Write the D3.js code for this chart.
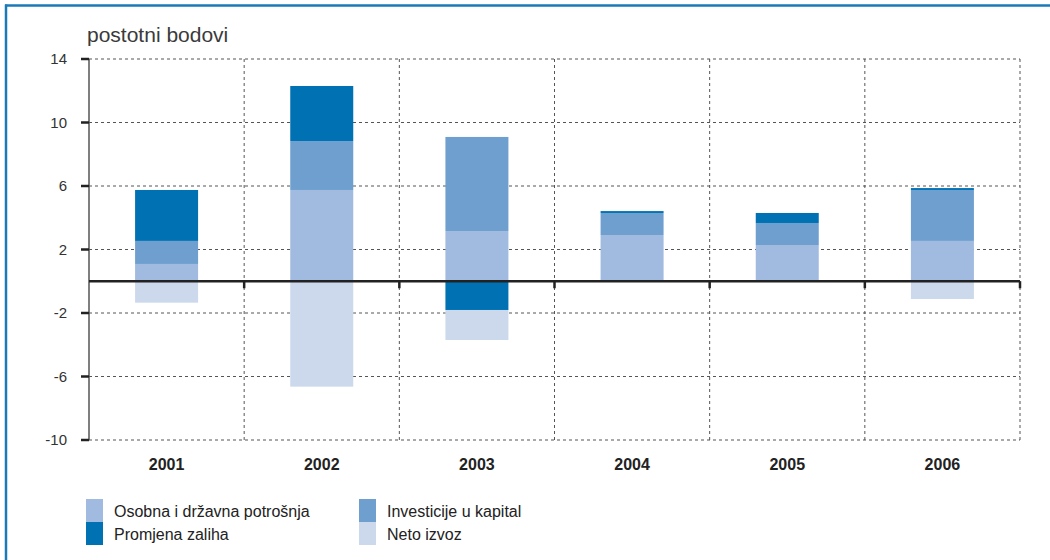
<!DOCTYPE html>
<html>
<head>
<meta charset="utf-8">
<script src="https://cdn.jsdelivr.net/npm/d3@7"></script>
<style>
  body { margin: 0; background: #fff; }
  svg { display: block; font-family: "Liberation Sans", Arial, sans-serif; }
  .tick-label { font-size: 15px; fill: #333; }
  .year { font-size: 16px; font-weight: bold; fill: #222; }
  .legend-text { font-size: 16px; fill: #222; }
</style>
</head>
<body>
<svg width="1050" height="560"></svg>
<script>
var years = ["2001", "2002", "2003", "2004", "2005", "2006"];
var potrosnja = [1.09, 5.75, 3.16, 2.91, 2.28, 2.54];
var investicije = [1.45, 3.08, 5.93, 1.39, 1.39, 3.21];
var zalihe = [3.21, 3.47, -1.81, 0.12, 0.63, 0.12];
var izvoz = [-1.35, -6.64, -1.89, 0, 0, -1.12];
var yTicks = [14, 10, 6, 2, -2, -6, -10];

var seriesNames = ["Osobna i državna potrošnja", "Investicije u kapital", "Promjena zaliha", "Neto izvoz"];
var seriesVals = [potrosnja, investicije, zalihe, izvoz];
var colors = ["#a1badf", "#6e9fcf", "#0072b3", "#ccd9ec"];

var svg = d3.select("svg");
var margin = { top: 59, right: 30, bottom: 120, left: 89 };

// frame lines (top and left only)
svg.append("line").attr("x1", 5).attr("x2", 1050).attr("y1", 5.5).attr("y2", 5.5)
    .attr("stroke", "#1a7ab8").attr("stroke-width", 2.5);
svg.append("line").attr("x1", 6).attr("x2", 6).attr("y1", 4.5).attr("y2", 560)
    .attr("stroke", "#1a7ab8").attr("stroke-width", 2.5);

svg.append("text").attr("x", 87).attr("y", 42)
    .attr("font-size", 21).attr("fill", "#3a3a3a")
    .text("postotni bodovi");

var x = d3.scaleBand().domain(years).range([0, 931]).paddingInner(0).paddingOuter(0);
var y = d3.scaleLinear().domain([-10, 14]).range([381, 0]);

var g = svg.append("g").attr("transform", "translate(" + margin.left + "," + margin.top + ")");

// horizontal grid
g.selectAll(".hgrid").data(yTicks).enter().append("line")
    .attr("x1", 0).attr("x2", 931)
    .attr("y1", function (d) { return y(d); }).attr("y2", function (d) { return y(d); })
    .attr("stroke", "#555").attr("stroke-width", 1).attr("stroke-dasharray", "3,3");

// vertical grid at category boundaries
var bounds = years.map(function (d) { return x(d) + x.bandwidth(); });
g.selectAll(".vgrid").data(bounds).enter().append("line")
    .attr("x1", function (d) { return d; }).attr("x2", function (d) { return d; })
    .attr("y1", 0).attr("y2", 381)
    .attr("stroke", "#555").attr("stroke-width", 1).attr("stroke-dasharray", "3,3");

// stacked bars: positives up, negatives down
var barW = 63;
years.forEach(function (yr, i) {
    var pos = 0, neg = 0;
    seriesVals.forEach(function (vals, s) {
        var v = vals[i];
        if (v === 0) return;
        var y0, y1;
        if (v > 0) { y0 = pos; y1 = pos + v; pos = y1; }
        else { y0 = neg; y1 = neg + v; neg = y1; }
        g.append("rect")
            .attr("x", x(yr) + (x.bandwidth() - barW) / 2)
            .attr("width", barW)
            .attr("y", y(Math.max(y0, y1)))
            .attr("height", Math.abs(y(y0) - y(y1)))
            .attr("fill", colors[s]);
    });
});

// y axis
g.append("line").attr("x1", 0).attr("x2", 0).attr("y1", 0).attr("y2", 381)
    .attr("stroke", "#555").attr("stroke-width", 1.5);
g.selectAll(".ytick").data(yTicks).enter().append("line")
    .attr("x1", -8).attr("x2", 0)
    .attr("y1", function (d) { return y(d); }).attr("y2", function (d) { return y(d); })
    .attr("stroke", "#222").attr("stroke-width", 2.5);
g.selectAll(".tick-label").data(yTicks).enter().append("text")
    .attr("class", "tick-label")
    .attr("x", -22).attr("y", function (d) { return y(d) + 5; })
    .attr("text-anchor", "end")
    .text(function (d) { return d; });

// zero line with ticks at boundaries
g.append("line").attr("x1", 0).attr("x2", 931).attr("y1", y(0)).attr("y2", y(0))
    .attr("stroke", "#222").attr("stroke-width", 2.5);
g.selectAll(".ztick").data(bounds).enter().append("line")
    .attr("x1", function (d) { return d; }).attr("x2", function (d) { return d; })
    .attr("y1", y(0)).attr("y2", y(0) + 7)
    .attr("stroke", "#222").attr("stroke-width", 2.5);

// year labels
g.selectAll(".year").data(years).enter().append("text")
    .attr("class", "year")
    .attr("x", function (d) { return x(d) + x.bandwidth() / 2; })
    .attr("y", 411)
    .attr("text-anchor", "middle")
    .text(function (d) { return d; });

// legend
var legendItems = [
    { name: seriesNames[0], color: colors[0], lx: 86, ly: 499 },
    { name: seriesNames[2], color: colors[2], lx: 86, ly: 522 },
    { name: seriesNames[1], color: colors[1], lx: 359, ly: 499 },
    { name: seriesNames[3], color: colors[3], lx: 359, ly: 522 }
];
var lg = svg.selectAll(".legend").data(legendItems).enter().append("g");
lg.append("rect")
    .attr("x", function (d) { return d.lx; }).attr("y", function (d) { return d.ly; })
    .attr("width", 17).attr("height", 23)
    .attr("fill", function (d) { return d.color; });
lg.append("text")
    .attr("class", "legend-text")
    .attr("x", function (d) { return d.lx + 28; })
    .attr("y", function (d) { return d.ly + 18; })
    .text(function (d) { return d.name; });
</script>
</body>
</html>
